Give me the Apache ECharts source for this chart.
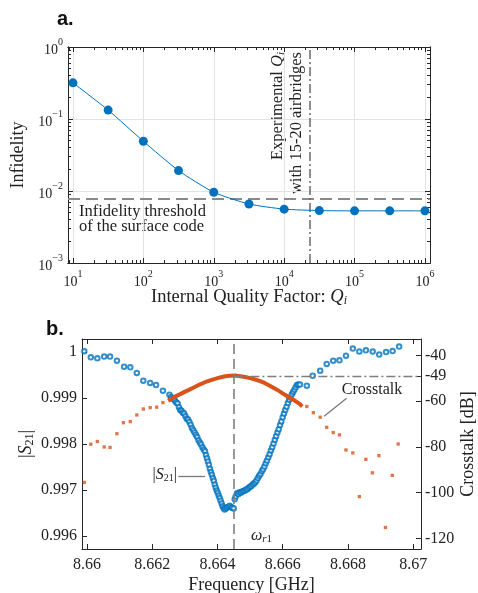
<!DOCTYPE html>
<html>
<head>
<meta charset="utf-8">
<script src="https://cdn.jsdelivr.net/npm/echarts@6/dist/echarts.min.js"></script>
<style>html,body{margin:0;padding:0;background:#fff}#chart{width:478px;height:593px}</style>
</head>
<body>
<div id="chart"></div>
<script>
// ---- panel a: infidelity vs internal quality factor ----
var qFactor = [10, 31.6, 100, 316, 1000, 3160, 1e4, 3.16e4, 1e5, 3.16e5, 1e6];
var infidelity = [0.318, 0.133, 0.049, 0.0192, 0.0096, 0.0066, 0.0056, 0.00535, 0.0053, 0.0053, 0.0053];
var thresholdInfidelity = 0.0077;
var experimentalQ = 2.3e4;
var qTicks = [10, 100, 1000, 1e4, 1e5, 1e6];
var infTicks = [1e-3, 1e-2, 1e-1, 1];

// ---- panel b: |S21| and crosstalk vs frequency ----
var s21Freq = [
  8.65992, 8.66012, 8.66032, 8.66053, 8.66071, 8.66092, 8.66114, 8.66133, 8.66153, 8.66173, 8.66194, 8.66212, 8.66233,
  8.66253, 8.66258, 8.66262, 8.66266, 8.66270, 8.66274, 8.66278, 8.66282, 8.66286, 8.66290, 8.66294, 8.66298, 8.66302,
  8.66306, 8.66310, 8.66314, 8.66318, 8.66322, 8.66326, 8.66330, 8.66334, 8.66338, 8.66342, 8.66346, 8.66350, 8.66354,
  8.66358, 8.66362, 8.66365, 8.66368, 8.66371, 8.66374, 8.66377, 8.66380, 8.66383, 8.66386, 8.66389, 8.66392, 8.66395,
  8.66398, 8.66401, 8.66404, 8.66407, 8.66410, 8.66413, 8.66416, 8.66419, 8.66422, 8.66426, 8.66430, 8.66434, 8.66438,
  8.66442, 8.66446, 8.66450,
  8.66453, 8.66456, 8.66460, 8.66464, 8.66468, 8.66472, 8.66476, 8.66480, 8.66484, 8.66488, 8.66492, 8.66496, 8.66500,
  8.66504, 8.66508, 8.66512, 8.66516, 8.66520, 8.66524, 8.66528, 8.66532, 8.66536, 8.66540, 8.66544, 8.66548, 8.66552,
  8.66556, 8.66560, 8.66564, 8.66568, 8.66572, 8.66576, 8.66580, 8.66584, 8.66588, 8.66592, 8.66596, 8.66600, 8.66604,
  8.66608, 8.66612, 8.66616, 8.66620, 8.66624, 8.66628, 8.66632, 8.66636, 8.66640, 8.66644, 8.66648, 8.66653,
  8.66674, 8.66692, 8.66715, 8.66735, 8.66755, 8.66774, 8.66794, 8.66815, 8.66835, 8.66855, 8.66876, 8.66896, 8.66917,
  8.66937, 8.66957
];
var s21Value = [
  1.000013, 0.999882, 0.999861, 0.999898, 0.999898, 0.99981, 0.99968, 0.999664, 0.999542, 0.999375, 0.999325, 0.999281, 0.999157,
  0.99907, 0.99902, 0.99898, 0.99899, 0.99894, 0.99890, 0.99888, 0.99880, 0.99874, 0.99872, 0.99868, 0.99866, 0.99860,
  0.99855, 0.99853, 0.99848, 0.99842, 0.99835, 0.99830, 0.99825, 0.99820, 0.99815, 0.99808, 0.99803, 0.99799, 0.99793,
  0.99788, 0.99784, 0.99776, 0.99769, 0.99762, 0.99755, 0.99746, 0.99739, 0.99733, 0.99726, 0.99720, 0.99712, 0.99705,
  0.99699, 0.99694, 0.99688, 0.99683, 0.99677, 0.99671, 0.99665, 0.99661, 0.99658, 0.99660, 0.99662, 0.99664, 0.99666,
  0.99663, 0.99661, 0.99660,
  0.99680, 0.99686, 0.99693, 0.99691, 0.99695, 0.99694, 0.99697, 0.99698, 0.99699, 0.99701, 0.99702, 0.99705, 0.99707,
  0.99709, 0.99712, 0.99714, 0.99717, 0.99721, 0.99726, 0.99731, 0.99735, 0.99741, 0.99745, 0.99751, 0.99758, 0.99764,
  0.99771, 0.99778, 0.99786, 0.99793, 0.99801, 0.99809, 0.99817, 0.99825, 0.99832, 0.99841, 0.99849, 0.99858, 0.99866,
  0.99874, 0.99881, 0.99889, 0.99896, 0.99901, 0.99908, 0.99913, 0.99918, 0.99923, 0.99928, 0.99929, 0.99929,
  0.999266, 0.999482, 0.999593, 0.999739, 0.99981, 0.999817, 0.999919, 1.000072, 1.000007, 1.000035, 1.000007, 0.999941, 0.999996,
  1.000017, 1.000115
];
// sparse crosstalk points (outside the dense window)
var xtalkSparseFreq = [
  8.65992, 8.66012, 8.66032, 8.66053, 8.66071, 8.66092, 8.66112, 8.66133, 8.66153, 8.66173, 8.66194, 8.66214, 8.66233,
  8.66674, 8.66694, 8.66715, 8.66735, 8.66755, 8.66774, 8.66794, 8.66815, 8.66835, 8.66855, 8.66875, 8.66895, 8.66915,
  8.66936, 8.66954
];
var xtalkSparseDb = [
  -95.5, -78.8, -77.6, -80.0, -80.2, -74.2, -69.4, -68.9, -66.0, -63.4, -62.8, -62.6, -60.6,
  -62.3, -65.0, -67.0, -71.4, -73.7, -74.7, -81.3, -82.6, -101.7, -85.4, -91.3, -83.8, -115.2,
  -92.4, -78.7
];
// dense crosstalk window
var xtalkFreq = [
  8.66249, 8.66270, 8.66286, 8.66301, 8.66316, 8.66332, 8.66347, 8.66362, 8.66378, 8.66393, 8.66408, 8.66424, 8.66439,
  8.66454, 8.66470, 8.66485, 8.66500, 8.66516, 8.66531, 8.66546, 8.66562, 8.66577, 8.66592, 8.66607, 8.66623, 8.66638,
  8.66653, 8.66660
];
var xtalkDb = [
  -59.8, -58.0, -56.9, -55.8, -54.8, -53.7, -52.6, -51.7, -50.9, -50.2, -49.6, -49.1, -48.9,
  -48.8, -49.1, -49.4, -49.9, -50.5, -51.2, -52.1, -53.3, -54.5, -55.8, -57.2, -58.6, -59.8,
  -61.3, -62.3
];
var resonanceFreq = 8.66449;
var xtalkAtResonance = -49;
var freqTicks = [8.66, 8.662, 8.664, 8.666, 8.668, 8.67];
var s21Ticks = [0.996, 0.997, 0.998, 0.999, 1];
var dbTicks = [-120, -100, -80, -60, -49, -40];

var blue = '#0072BD';
var orange = '#D95319';
var serif = '"Liberation Serif", "DejaVu Serif", serif';

function zip(a, b) {
  return a.map(function (v, i) { return [v, b[i]]; });
}
// minor tick positions for log axes (2..9 in each decade)
function minorLog(lo, hi) {
  var out = [];
  for (var d = lo; d <= hi; d++) {
    for (var m = 2; m <= 9; m++) out.push(m * Math.pow(10, d));
  }
  return out;
}
function powLabel(v) {
  var e = Math.round(Math.log10(v));
  return '{b|10}{e|' + (e < 0 ? '\u2212' + (-e) : e) + '}';
}
var powRich = {
  b: { fontFamily: serif, fontSize: 14, color: '#222', lineHeight: 20, verticalAlign: 'bottom' },
  e: { fontFamily: serif, fontSize: 10, color: '#222', lineHeight: 20, verticalAlign: 'top' }
};

function frameAxis(type, opts) {
  var base = {
    type: type,
    axisLine: { show: true, onZero: false, lineStyle: { color: '#262626', width: 1 } },
    axisTick: { show: false },
    axisLabel: { show: false },
    splitLine: { show: false },
    nameMoveOverlap: false
  };
  return Object.assign(base, opts);
}

var qMin = 8.5, qMax = 1.18e6;
var fMin = 8.65985, fMax = 8.67024;
var dbMin = -124.6, dbMax = -32.8;
var chart = echarts.init(document.getElementById('chart'));

var option = {
  animation: false,
  backgroundColor: '#fff',
  grid: [
    { left: 68, top: 47, width: 362, height: 216, containLabel: false, outerBoundsMode: 'none' },
    { left: 82, top: 339, width: 339, height: 210, containLabel: false, outerBoundsMode: 'none' }
  ],
  xAxis: [
    frameAxis('log', {
      gridIndex: 0, position: 'bottom', min: qMin, max: qMax,
      axisTick: { show: true, inside: true, length: 5, customValues: qTicks, lineStyle: { color: '#262626' } },
      axisLabel: { show: true, margin: 6, customValues: qTicks, formatter: powLabel, rich: powRich },
      splitLine: { show: true, lineStyle: { color: '#e3e3e3', width: 1 } },
      name: 'Internal Quality Factor: {q|Q}{s|i}', nameLocation: 'middle', nameGap: 24,
      nameTextStyle: {
        fontFamily: serif, fontSize: 18.5, color: '#222',
        rich: { q: { fontFamily: serif, fontSize: 18.5, fontStyle: 'italic', color: '#222' },
                s: { fontFamily: serif, fontSize: 12, fontStyle: 'italic', color: '#222', padding: [8, 0, 0, 0] } }
      }
    }),
    frameAxis('log', {
      gridIndex: 0, position: 'top', min: qMin, max: qMax,
      axisTick: { show: true, inside: true, length: 5, customValues: qTicks, lineStyle: { color: '#262626' } }
    }),
    frameAxis('log', {
      gridIndex: 0, position: 'bottom', min: qMin, max: qMax,
      axisTick: { show: true, inside: true, length: 3, customValues: minorLog(0, 5), lineStyle: { color: '#262626' } }
    }),
    frameAxis('log', {
      gridIndex: 0, position: 'top', min: qMin, max: qMax,
      axisTick: { show: true, inside: true, length: 3, customValues: minorLog(0, 5), lineStyle: { color: '#262626' } }
    }),
    frameAxis('value', {
      gridIndex: 1, position: 'bottom', min: fMin, max: fMax,
      axisTick: { show: true, inside: true, length: 5, customValues: freqTicks, lineStyle: { color: '#262626' } },
      axisLabel: {
        show: true, margin: 8, customValues: freqTicks, fontFamily: serif, fontSize: 16, color: '#222',
        formatter: function (v) { return String(+v.toFixed(3)); }
      },
      name: 'Frequency [GHz]', nameLocation: 'middle', nameGap: 27,
      nameTextStyle: { fontFamily: serif, fontSize: 18, color: '#222' }
    }),
    frameAxis('value', {
      gridIndex: 1, position: 'top', min: fMin, max: fMax,
      axisTick: { show: true, inside: true, length: 5, customValues: freqTicks, lineStyle: { color: '#262626' } }
    })
  ],
  yAxis: [
    frameAxis('log', {
      gridIndex: 0, position: 'left', min: 1e-3, max: 1,
      axisTick: { show: true, inside: true, length: 5, customValues: infTicks, lineStyle: { color: '#262626' } },
      axisLabel: { show: true, margin: 5, customValues: infTicks, formatter: powLabel, rich: powRich },
      splitLine: { show: true, lineStyle: { color: '#e3e3e3', width: 1 } },
      name: 'Infidelity', nameLocation: 'middle', nameGap: 41, nameRotate: 90,
      nameTextStyle: { fontFamily: serif, fontSize: 18, color: '#222' }
    }),
    frameAxis('log', {
      gridIndex: 0, position: 'right', min: 1e-3, max: 1,
      axisTick: { show: true, inside: true, length: 5, customValues: infTicks, lineStyle: { color: '#262626' } }
    }),
    frameAxis('log', {
      gridIndex: 0, position: 'left', min: 1e-3, max: 1,
      axisTick: { show: true, inside: true, length: 3, customValues: minorLog(-3, -1), lineStyle: { color: '#262626' } }
    }),
    frameAxis('log', {
      gridIndex: 0, position: 'right', min: 1e-3, max: 1,
      axisTick: { show: true, inside: true, length: 3, customValues: minorLog(-3, -1), lineStyle: { color: '#262626' } }
    }),
    frameAxis('value', {
      gridIndex: 1, position: 'left', min: 0.99572, max: 1.00028,
      axisTick: { show: true, inside: true, length: 5, customValues: s21Ticks, lineStyle: { color: '#262626' } },
      axisLabel: {
        show: true, margin: 5, customValues: s21Ticks, fontFamily: serif, fontSize: 16, color: '#222',
        formatter: function (v) { return Math.abs(v - 1) < 1e-9 ? '1' : v.toFixed(3); }
      },
      name: '|{s|S}{n|21}|', nameLocation: 'middle', nameGap: 46, nameRotate: 90,
      nameTextStyle: {
        fontFamily: serif, fontSize: 18, color: '#222',
        rich: { s: { fontFamily: serif, fontSize: 18, fontStyle: 'italic', color: '#222' },
                n: { fontFamily: serif, fontSize: 12, color: '#222', padding: [8, 0, 0, 0] } }
      }
    }),
    frameAxis('value', {
      gridIndex: 1, position: 'right', min: dbMin, max: dbMax,
      axisTick: { show: true, inside: true, length: 5, customValues: dbTicks, lineStyle: { color: '#262626' } },
      axisLabel: { show: true, margin: 4, customValues: dbTicks, fontFamily: serif, fontSize: 16, color: '#222' },
      name: 'Crosstalk [dB]', nameLocation: 'middle', nameGap: 38, nameRotate: 90,
      nameTextStyle: { fontFamily: serif, fontSize: 18, color: '#222' }
    })
  ],
  series: [
    {
      type: 'line', xAxisIndex: 0, yAxisIndex: 0,
      data: zip(qFactor, infidelity),
      smooth: 0.2,
      symbol: 'circle', symbolSize: 9,
      itemStyle: { color: blue },
      lineStyle: { color: blue, width: 1 },
      z: 5,
      markLine: {
        silent: true, symbol: ['none', 'none'], label: { show: false },
        data: [
          [{ coord: [qMin, thresholdInfidelity], lineStyle: { color: '#8a8a8a', width: 2, type: [12, 6] } },
           { coord: [qMax, thresholdInfidelity] }],
          [{ coord: [experimentalQ, 1e-3], lineStyle: { color: '#6a6a6a', width: 1.5, type: [9, 3, 2, 3] } },
           { coord: [experimentalQ, 1] }]
        ]
      }
    },
    {
      type: 'scatter', xAxisIndex: 4, yAxisIndex: 4,
      data: zip(s21Freq, s21Value),
      symbol: 'emptyCircle', symbolSize: 4.5,
      itemStyle: { color: blue, borderColor: blue, borderWidth: 1.1 },
      markLine: {
        silent: true, symbol: ['none', 'arrow'], symbolSize: [0, 8], label: { show: false },
        lineStyle: { color: '#7a7a7a', width: 1.3, type: 'solid' },
        data: [[{ coord: [8.6628, 0.997305] }, { coord: [8.66362, 0.997305] }]]
      }
    },
    {
      type: 'scatter', xAxisIndex: 4, yAxisIndex: 5,
      data: zip(xtalkSparseFreq, xtalkSparseDb),
      symbol: 'rect', symbolSize: 3.3,
      itemStyle: { color: orange },
      markLine: {
        silent: true, symbol: ['none', 'arrow'], symbolSize: [0, 8], label: { show: false },
        lineStyle: { color: '#7a7a7a', width: 1.3, type: 'solid' },
        data: [[{ coord: [8.66796, -58.7] }, { coord: [8.66727, -66.6] }]]
      }
    },
    {
      type: 'line', xAxisIndex: 4, yAxisIndex: 5,
      data: zip(xtalkFreq, xtalkDb),
      showSymbol: false, symbol: 'none',
      lineStyle: { color: orange, width: 4 },
      z: 4,
      markLine: {
        silent: true, symbol: ['none', 'none'], label: { show: false },
        data: [
          [{ coord: [resonanceFreq, dbMin], lineStyle: { color: '#7f7f7f', width: 1.6, type: [10, 5] } },
           { coord: [resonanceFreq, dbMax] }],
          [{ coord: [resonanceFreq, xtalkAtResonance], lineStyle: { color: '#7f7f7f', width: 1.4, type: [9, 3, 2, 3] } },
           { coord: [fMax, xtalkAtResonance] }]
        ]
      }
    }
  ],
  graphic: [
    { type: 'text', left: 57, top: 9, style: { text: 'a.', font: 'bold 20px "Liberation Sans", Arial, sans-serif', fill: '#111' } },
    { type: 'text', left: 46, top: 319, style: { text: 'b.', font: 'bold 20px "Liberation Sans", Arial, sans-serif', fill: '#111' } },
    {
      type: 'text', x: 278, y: 52, rotation: Math.PI / 2,
      style: {
        text: 'Experimental {q|Q}{s|i}', align: 'right', verticalAlign: 'middle',
        font: '16.5px ' + serif, fill: '#222',
        rich: { q: { font: 'italic 16.5px ' + serif, fill: '#222' },
                s: { font: 'italic 11px ' + serif, fill: '#222', padding: [7, 0, 0, 0] } }
      }
    },
    {
      type: 'text', x: 297, y: 52, rotation: Math.PI / 2,
      style: { text: 'with 15-20 airbridges', align: 'right', verticalAlign: 'middle', font: '16.5px ' + serif, fill: '#222' }
    },
    {
      type: 'text', x: 79, y: 204,
      style: { text: 'Infidelity threshold\nof the surface code', font: '16.5px ' + serif, lineHeight: 15, fill: '#222' }
    },
    {
      type: 'text', x: 372, y: 390,
      style: { text: 'Crosstalk', align: 'center', verticalAlign: 'middle', font: '16px ' + serif, fill: '#222' }
    },
    {
      type: 'text', x: 177, y: 475,
      style: {
        text: '|{s|S}{n|21}|', align: 'right', verticalAlign: 'middle', font: '16px ' + serif, fill: '#222',
        rich: { s: { font: 'italic 16px ' + serif, fill: '#222' }, n: { font: '10px ' + serif, fill: '#222', padding: [6, 0, 0, 0] } }
      }
    },
    {
      type: 'text', x: 251, y: 536,
      style: {
        text: '{w|\u03c9}{r|r}{n|1}', verticalAlign: 'middle', font: '16px ' + serif, fill: '#222',
        rich: { w: { font: 'italic 16px ' + serif, fill: '#222' },
                r: { font: 'italic 11px ' + serif, fill: '#222', padding: [6, 0, 0, 0] },
                n: { font: '11px ' + serif, fill: '#222', padding: [6, 0, 0, 0] } }
      }
    }
  ]
};

chart.setOption(option);
</script>
</body>
</html>
